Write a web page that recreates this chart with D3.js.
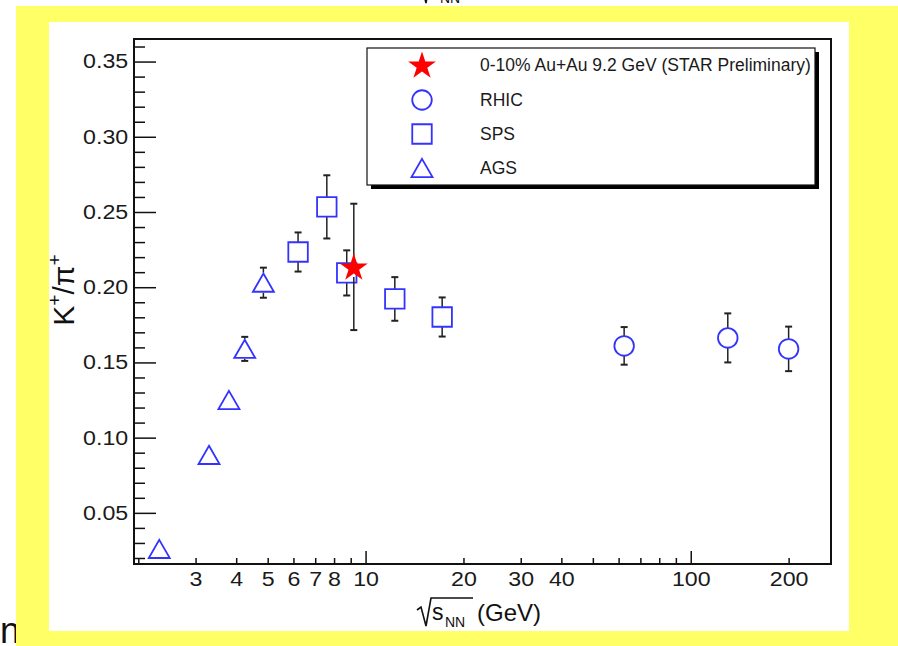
<!DOCTYPE html>
<html>
<head>
<meta charset="utf-8">
<script src="https://cdn.jsdelivr.net/npm/d3@7"></script>
<style>
body { margin: 0; background: #fff; }
svg { display: block; font-family: "Liberation Sans", Arial, Helvetica, sans-serif; }
</style>
</head>
<body>
<svg class="chart" width="898" height="646"></svg>
<script>
// AGS (triangles)
const agsX = [2.32, 3.3, 3.8, 4.25, 4.85];
const agsY = [0.026, 0.0885, 0.125, 0.159, 0.203];
const agsErr = [0.003, 0.004, 0.005, 0.008, 0.010];
// SPS (squares)
const spsX = [6.2, 7.6, 8.75, 12.3, 17.2];
const spsY = [0.2234, 0.2534, 0.2095, 0.1922, 0.1802];
const spsErr = [0.013, 0.021, 0.015, 0.0145, 0.013];
// RHIC (circles)
const rhicX = [62.4, 130, 200];
const rhicY = [0.161, 0.1663, 0.159];
const rhicErr = [0.0125, 0.0163, 0.0148];
// STAR 9.2 GeV (star)
const starX = [9.2];
const starY = [0.2135];
const starErr = [0.042];

const xTickLabels = [3, 4, 5, 6, 7, 8, 10, 20, 30, 40, 100, 200];
const xMinorTicks = [2, 3, 4, 5, 6, 7, 8, 9, 20, 30, 40, 50, 60, 70, 80, 90, 200];
const xMajorTicks = [10, 100];
const yTickLabels = [0.05, 0.10, 0.15, 0.20, 0.25, 0.30, 0.35];
const legendLabels = ["0-10% Au+Au 9.2 GeV (STAR Preliminary)", "RHIC", "SPS", "AGS"];

let frameL = 134, frameR = 831, frameT = 39, frameB = 564;
let blue = "#3333ff";
let markHalf = 10;

const svg = d3.select(".chart");

// 背景
svg.append("text").attr("x", 0).attr("y", 643)
    .style("font-size", "36px").attr("fill", "#111").text("n");
svg.append("rect").attr("x", 16).attr("y", 6).attr("width", 882).attr("height", 640).attr("fill", "#ffff66");
svg.append("rect").attr("x", 49).attr("y", 22).attr("width", 800).attr("height", 609).attr("fill", "#fff");

// 上の切れた文字
const topFrag = svg.append("g");
topFrag.append("path").attr("d", "M417,-14 L421,-17 L426,3 L431,-26")
    .attr("fill", "none").attr("stroke", "#111").attr("stroke-width", 1.6);
topFrag.append("text").attr("x", 440).attr("y", 3).style("font-size", "14px").attr("fill", "#111").text("NN");

// scales
const xScale = d3.scaleLog().domain([1.94, 270]).range([frameL, frameR]);
const yScale = d3.scaleLinear().domain([0.016, 0.365]).range([frameB, frameT]);

function styleAxis(g) {
    g.select(".domain").remove();
    g.selectAll("line").attr("stroke", "#111").attr("stroke-width", 1.5);
}

// X ticks (inside)
svg.append("g").attr("transform", `translate(0,${frameB})`)
    .call(d3.axisTop(xScale).tickValues(xMinorTicks).tickSize(6).tickFormat(""))
    .call(styleAxis);
svg.append("g").attr("transform", `translate(0,${frameB})`)
    .call(d3.axisTop(xScale).tickValues(xMajorTicks).tickSize(13).tickFormat(""))
    .call(styleAxis);

// X labels
const xLab = svg.append("g").attr("transform", `translate(0,${frameB})`)
    .call(d3.axisBottom(xScale).tickValues(xTickLabels).tickSize(0).tickPadding(8).tickFormat(d3.format("d")));
xLab.select(".domain").remove();
xLab.selectAll("text").style("font-size", "20px").attr("fill", "#1a1a1a")
    .style("font-family", "'Liberation Sans', Arial, sans-serif")
    .attr("transform", "scale(1.16,1)");

// Y ticks (inside)
const yMinor = d3.range(2, 37).map(d => d / 100).filter(d => d % 0.05 > 0.001 && d % 0.05 < 0.049);
svg.append("g").attr("transform", `translate(${frameL},0)`)
    .call(d3.axisRight(yScale).tickValues(yMinor).tickSize(11).tickFormat(""))
    .call(styleAxis);
svg.append("g").attr("transform", `translate(${frameL},0)`)
    .call(d3.axisRight(yScale).tickValues(yTickLabels).tickSize(22).tickFormat(""))
    .call(styleAxis);

const yLab = svg.append("g").attr("transform", `translate(${frameL},0)`)
    .call(d3.axisLeft(yScale).tickValues(yTickLabels).tickSize(0).tickPadding(5).tickFormat(d3.format(".2f")));
yLab.select(".domain").remove();
yLab.selectAll("text").style("font-size", "20px").attr("fill", "#1a1a1a")
    .style("font-family", "'Liberation Sans', Arial, sans-serif")
    .attr("transform", "scale(1.16,1)");

// 枠
svg.append("rect").attr("x", frameL).attr("y", frameT)
    .attr("width", frameR - frameL).attr("height", frameB - frameT)
    .attr("fill", "none").attr("stroke", "#111").attr("stroke-width", 2);

// axis titles
const xt = svg.append("g").attr("fill", "#111");
xt.append("path").attr("d", "M417,610 L421,607 L426,626 L431,598 L473,598")
    .attr("fill", "none").attr("stroke", "#111").attr("stroke-width", 1.6);
xt.append("text").attr("x", 432).attr("y", 620).style("font-size", "23px").text("s");
xt.append("text").attr("x", 445).attr("y", 627).style("font-size", "14px").text("NN");
xt.append("text").attr("x", 477).attr("y", 621).style("font-size", "24px").text("(GeV)");

const yt = svg.append("text").attr("transform", "translate(74,290) rotate(-90)")
    .attr("text-anchor", "middle").attr("fill", "#111").style("font-size", "30px");
yt.append("tspan").text("K");
yt.append("tspan").attr("dy", -13).style("font-size", "19px").text("+");
yt.append("tspan").attr("dy", 13).text("/");
yt.append("tspan").text("π");
yt.append("tspan").attr("dy", -13).style("font-size", "19px").text("+");

// data rows
function rows(xs, ys, es) {
    return xs.map((x, i) => ({x: x, y: ys[i], e: es[i]}));
}
const ags = rows(agsX, agsY, agsErr);
const sps = rows(spsX, spsY, spsErr);
const rhic = rows(rhicX, rhicY, rhicErr);
const star = rows(starX, starY, starErr);

// error bars
function errorBars(data) {
    const g = svg.append("g").attr("stroke", "#222").attr("stroke-width", 1.5);
    data.forEach(d => {
        const cx = xScale(d.x), cy = yScale(d.y);
        const yTop = yScale(d.y + d.e), yBot = yScale(d.y - d.e);
        if (cy - yTop > markHalf) {
            g.append("line").attr("x1", cx).attr("x2", cx).attr("y1", yTop).attr("y2", cy - markHalf);
            g.append("line").attr("x1", cx - 3.5).attr("x2", cx + 3.5).attr("y1", yTop).attr("y2", yTop).attr("stroke-width", 2);
        }
        if (yBot - cy > markHalf) {
            g.append("line").attr("x1", cx).attr("x2", cx).attr("y1", cy + markHalf).attr("y2", yBot);
            g.append("line").attr("x1", cx - 3.5).attr("x2", cx + 3.5).attr("y1", yBot).attr("y2", yBot).attr("stroke-width", 2);
        }
    });
}

const symTri = d3.symbol(d3.symbolTriangle).size(191);
const symSq = d3.symbol(d3.symbolSquare).size(380);
const symCirc = d3.symbol(d3.symbolCircle).size(300);
const symStar = d3.symbol(d3.symbolStar).size(240);

function markers(data, sym, dy, fill, stroke) {
    svg.append("g").selectAll("path").data(data).enter().append("path")
        .attr("d", sym)
        .attr("transform", d => `translate(${xScale(d.x)},${yScale(d.y) + dy})`)
        .attr("fill", fill).attr("stroke", stroke).attr("stroke-width", 1.8);
}

errorBars(ags); errorBars(sps); errorBars(rhic);
markers(ags, symTri, 3, "none", blue);
markers(sps, symSq, 0, "none", blue);
markers(rhic, symCirc, 0, "none", blue);
errorBars(star);
markers(star, symStar, 1, "#ff0000", "none");

// legend
svg.append("rect").attr("x", 371).attr("y", 52).attr("width", 448).attr("height", 137).attr("fill", "#000");
svg.append("rect").attr("x", 367).attr("y", 48).attr("width", 448).attr("height", 137)
    .attr("fill", "#fff").attr("stroke", "#111").attr("stroke-width", 1.2);

const legSyms = [
    {sym: symStar, dy: 1, fill: "#ff0000", stroke: "none"},
    {sym: symCirc, dy: 0, fill: "none", stroke: blue},
    {sym: symSq, dy: 0, fill: "none", stroke: blue},
    {sym: symTri, dy: 3, fill: "none", stroke: blue}
];
const legRowY = [65, 100, 134, 168];
legendLabels.forEach((lab, i) => {
    const s = legSyms[i];
    svg.append("path").attr("d", s.sym())
        .attr("transform", `translate(422,${legRowY[i] + s.dy})`)
        .attr("fill", s.fill).attr("stroke", s.stroke).attr("stroke-width", 1.8);
    svg.append("text").attr("x", 480).attr("y", legRowY[i] + 6)
        .style("font-size", "17.5px").attr("fill", "#1a1a1a").text(lab);
});
</script>
</body>
</html>
